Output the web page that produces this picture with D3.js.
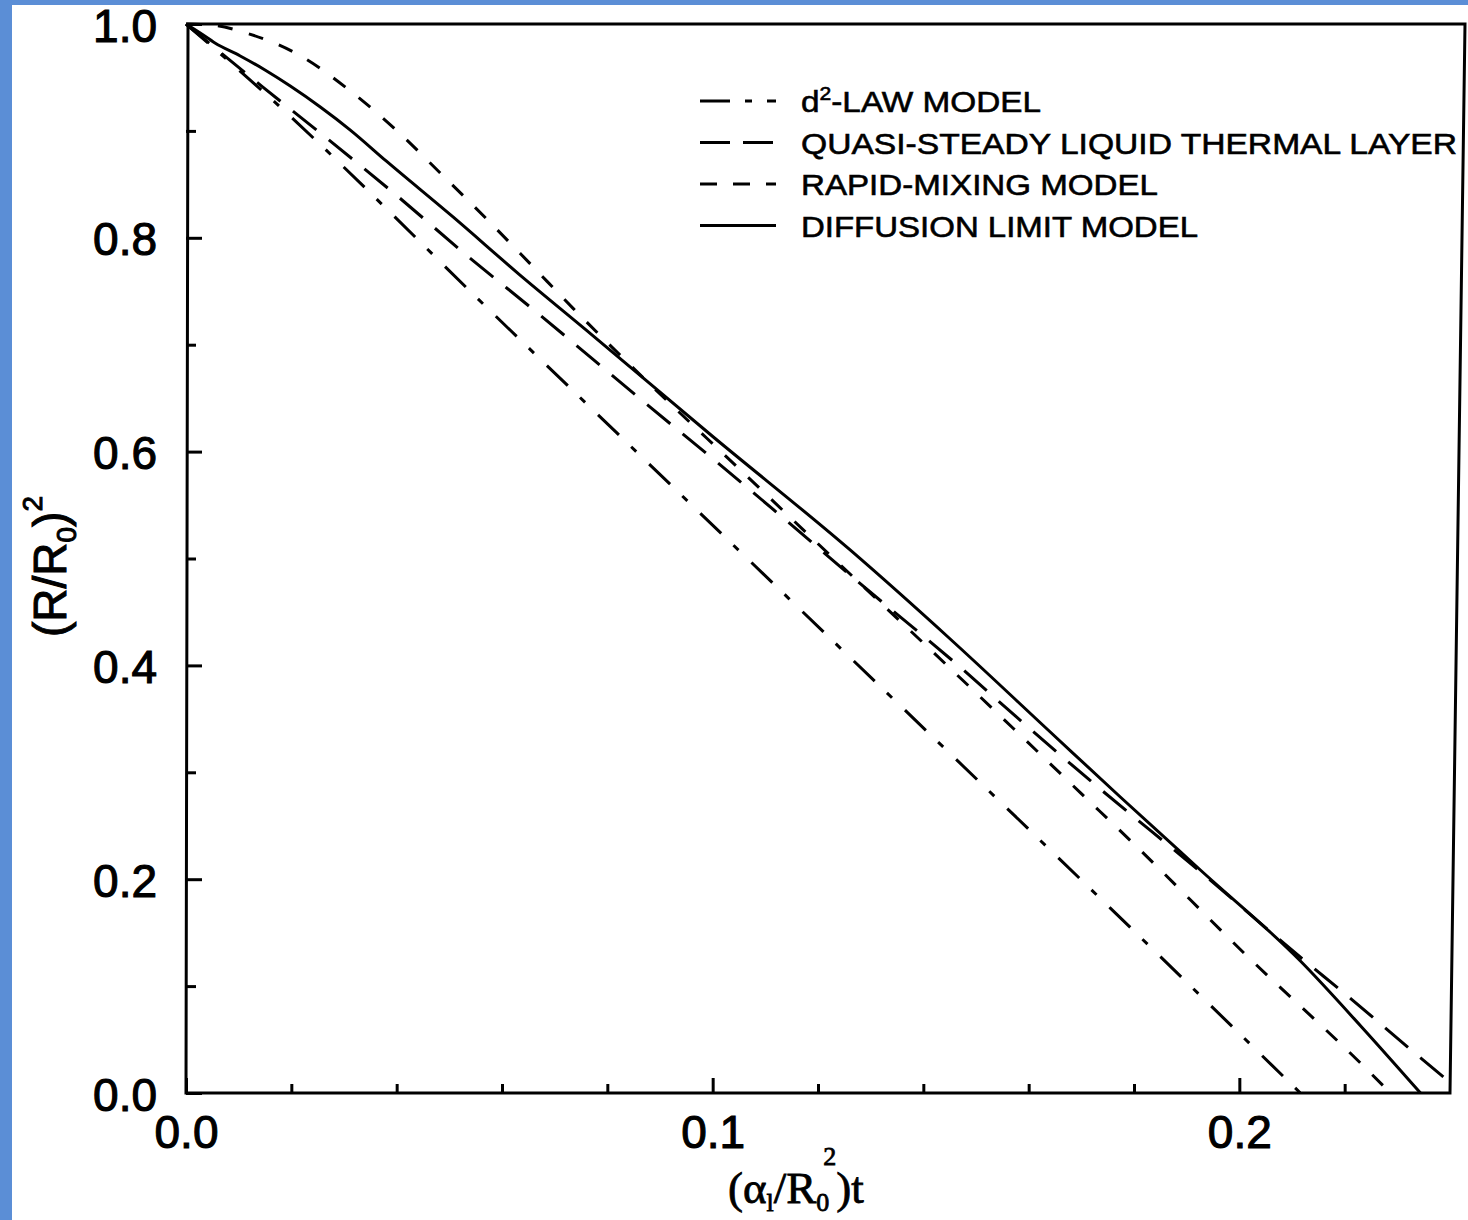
<!DOCTYPE html>
<html>
<head>
<meta charset="utf-8">
<script src="https://cdn.jsdelivr.net/npm/d3@7"></script>
<style>
  body { margin: 0; background: #fff; }
  svg { display: block; }
</style>
</head>
<body>
<div id="chart"></div>
<script>
// axis ticks
const xMajorTicks = [0, 0.1, 0.2];
const xMinorTicks = [0.02, 0.04, 0.06, 0.08, 0.12, 0.14, 0.16, 0.18, 0.22];
const yMajorTicks = [0, 0.2, 0.4, 0.6, 0.8, 1.0];
const yMinorTicks = [0.1, 0.3, 0.5, 0.7, 0.9];

const legendLabels = ["d²-LAW MODEL", "QUASI-STEADY LIQUID THERMAL LAYER", "RAPID-MIXING MODEL", "DIFFUSION LIMIT MODEL"];

// [ (alpha_l/R0^2) t , (R/R0)^2 ]
const d2Law = [[0, 1], [0.0146, 0.937], [0.06, 0.721], [0.115, 0.460], [0.1755, 0.173], [0.2116, 0]];
const quasiSteady = [[0, 1], [0.0146, 0.941], [0.026, 0.896], [0.0399, 0.840], [0.0532, 0.784], [0.0669, 0.729],
  [0.0868, 0.647], [0.1001, 0.593], [0.1134, 0.538], [0.1274, 0.479], [0.1466, 0.400], [0.1597, 0.343],
  [0.1732, 0.286], [0.1926, 0.207], [0.2116, 0.127], [0.2205, 0.091], [0.2334, 0.037], [0.24, 0.010]];
const rapidMixing = [[0, 1], [0.005, 0.999], [0.0108, 0.9925], [0.0218, 0.970], [0.0313, 0.937], [0.0403, 0.899],
  [0.0488, 0.858], [0.0570, 0.818], [0.0651, 0.777], [0.0735, 0.734], [0.0881, 0.663], [0.1048, 0.585],
  [0.1191, 0.518], [0.1445, 0.400], [0.1571, 0.341], [0.1698, 0.281], [0.1806, 0.230], [0.2015, 0.128],
  [0.2230, 0.028], [0.2287, 0]];
const diffusionLimit = [[0, 1], [0.0027, 0.9916], [0.0055, 0.9822], [0.0103, 0.9701], [0.015, 0.957], [0.0198, 0.942],
  [0.0255, 0.9224], [0.0312, 0.9008], [0.038, 0.8719], [0.0507, 0.8195], [0.0632, 0.7661], [0.076, 0.7137],
  [0.0999, 0.6146], [0.1261, 0.508], [0.1451, 0.4247], [0.1641, 0.3377], [0.1774, 0.2769], [0.1926, 0.2086],
  [0.2116, 0.1235], [0.223, 0.063], [0.2344, 0]];

const series = [d2Law, quasiSteady, rapidMixing, diffusionLimit];

const width = 1468, height = 1220;
const plot = { left: 186, top: 24, right: 1450, bottom: 1093 };
const dashes = ["29,17,7,18", "30,16", "15,17", null];
const legendDashes = ["30,15,7,15", "30,13", "17,16", null];
const legendTextWidth = [240, 656, 357, 397];
const sans = "'Liberation Sans', Arial, Helvetica, sans-serif";
const serif = "'Liberation Serif', 'Times New Roman', serif";

const svg = d3.select("#chart").append("svg")
  .attr("width", width)
  .attr("height", height);

svg.append("rect").attr("width", width).attr("height", height).attr("fill", "#fff");
// blue page edge from the scan
svg.append("rect").attr("x", 0).attr("y", 0).attr("width", 12).attr("height", height).attr("fill", "#5b8ed6");
svg.append("rect").attr("x", 0).attr("y", 0).attr("width", width).attr("height", 5).attr("fill", "#5b8ed6");

const x = d3.scaleLinear().domain([0, 0.24]).range([plot.left, plot.right]);
const y = d3.scaleLinear().domain([0, 1]).range([plot.bottom, plot.top]);

// frame (scan is slightly skewed on the right side)
svg.append("path")
  .attr("d", `M${plot.left + 2},${plot.top} L${plot.right + 15},${plot.top} L${plot.right},${plot.bottom} L${plot.left},${plot.bottom} Z`)
  .attr("fill", "none")
  .attr("stroke", "#000")
  .attr("stroke-width", 3);

function styleAxis(g, fontSize) {
  g.select(".domain").remove();
  g.selectAll(".tick line").attr("stroke", "#000").attr("stroke-width", 3);
  g.selectAll(".tick text")
    .attr("fill", "#000")
    .attr("stroke", "#000")
    .attr("stroke-width", 1.1)
    .style("font-family", sans)
    .style("font-size", fontSize + "px");
}

// x axis
svg.append("g")
  .attr("transform", `translate(0,${plot.bottom})`)
  .call(d3.axisBottom(x).tickValues(xMajorTicks).tickSize(-15).tickPadding(22).tickFormat(d3.format(".1f")))
  .call(g => styleAxis(g, 46));
svg.append("g")
  .attr("transform", `translate(0,${plot.bottom})`)
  .call(d3.axisBottom(x).tickValues(xMinorTicks).tickSize(-9).tickFormat(""))
  .call(g => styleAxis(g, 46));

// y axis
svg.append("g")
  .attr("transform", `translate(${plot.left},0)`)
  .call(d3.axisLeft(y).tickValues(yMajorTicks).tickSize(-16).tickPadding(29).tickFormat(d3.format(".1f")))
  .call(g => styleAxis(g, 46))
  .call(g => g.selectAll(".tick text").attr("dy", "0.37em"));
svg.append("g")
  .attr("transform", `translate(${plot.left},0)`)
  .call(d3.axisLeft(y).tickValues(yMinorTicks).tickSize(-10).tickFormat(""))
  .call(g => styleAxis(g, 46));

// curves
const line = d3.line()
  .x(d => x(d[0]))
  .y(d => y(d[1]))
  .curve(d3.curveMonotoneX);

svg.append("g")
  .selectAll("path")
  .data(series)
  .join("path")
  .attr("d", line)
  .attr("fill", "none")
  .attr("stroke", "#000")
  .attr("stroke-width", 3)
  .attr("stroke-dasharray", (d, i) => dashes[i]);

// legend
const legend = svg.append("g");
const rows = legend.selectAll("g")
  .data(legendLabels)
  .join("g")
  .attr("transform", (d, i) => `translate(0,${101 + i * 41.5})`);

rows.append("line")
  .attr("x1", 700).attr("x2", 776)
  .attr("y1", 0).attr("y2", 0)
  .attr("stroke", "#000")
  .attr("stroke-width", 3)
  .attr("stroke-dasharray", (d, i) => legendDashes[i]);

rows.append("text")
  .attr("x", 801)
  .attr("y", 11)
  .attr("textLength", (d, i) => legendTextWidth[i])
  .attr("lengthAdjust", "spacingAndGlyphs")
  .style("font-family", sans)
  .style("font-size", "30px")
  .attr("fill", "#000")
  .attr("stroke", "#000")
  .attr("stroke-width", 0.6)
  .each(function(d) {
    const t = d3.select(this);
    const parts = d.split("²");
    t.append("tspan").text(parts[0]);
    if (parts.length > 1) {
      t.append("tspan").attr("dy", -12).style("font-size", "19px").text("2");
      t.append("tspan").attr("dy", 12).text(parts[1]);
    }
  });

// x axis title: (α_l/R_0^2)t
const xTitle = svg.append("text")
  .attr("x", 728)
  .attr("y", 1203)
  .style("font-family", serif)
  .style("font-size", "45px")
  .attr("fill", "#000")
  .attr("stroke", "#000")
  .attr("stroke-width", 0.8);
xTitle.append("tspan").text("(α");
xTitle.append("tspan").attr("dy", 8).style("font-size", "26px").text("l");
xTitle.append("tspan").attr("dy", -8).text("/R");
xTitle.append("tspan").attr("dy", 8).style("font-size", "26px").text("0");
xTitle.append("tspan").attr("dx", -6).attr("dy", -46).style("font-size", "26px").text("2");
xTitle.append("tspan").attr("dy", 38).text(")t");

// y axis title: (R/R_0)^2
const yTitle = svg.append("text")
  .attr("transform", "translate(66,637) rotate(-90)")
  .style("font-family", sans)
  .style("font-size", "46px")
  .attr("fill", "#000")
  .attr("stroke", "#000")
  .attr("stroke-width", 1);
yTitle.append("tspan").text("(R/R");
yTitle.append("tspan").attr("dy", 10).style("font-size", "28px").text("0");
yTitle.append("tspan").attr("dy", -10).text(")");
yTitle.append("tspan").attr("dy", -24).style("font-size", "28px").text("2");
</script>
</body>
</html>
